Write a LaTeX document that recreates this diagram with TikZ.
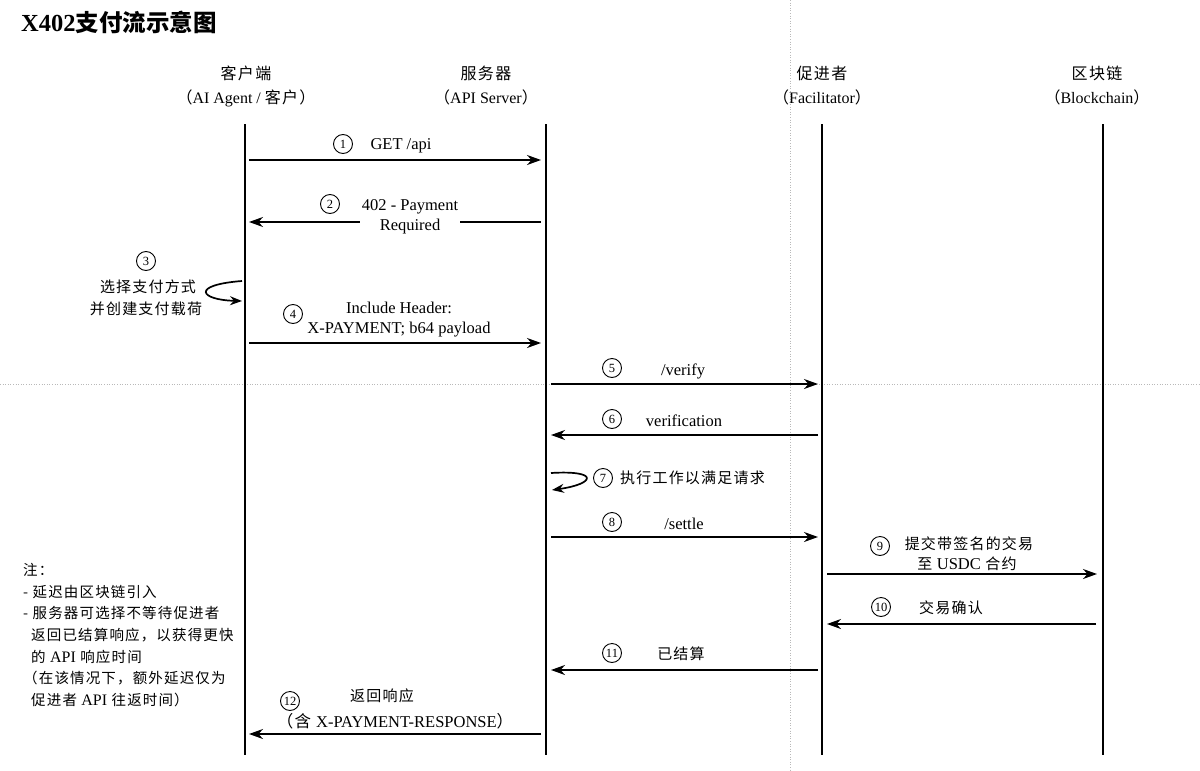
\documentclass[tikz,border=0pt]{standalone}
\usepackage{fontspec}
\setmainfont{Liberation Serif}
\newfontfamily\cjk{Noto Sans CJK SC}[LetterSpace=8]
\newfontfamily\cjktitle{Noto Sans CJK SC}
\usetikzlibrary{arrows.meta}
\tikzset{
  life/.style={line width=2.5pt},
  msg/.style={line width=1.7pt, -{Stealth[length=14pt,width=10pt,inset=4.5pt]}},
  loop/.style={line width=1.7pt, -{Stealth[length=12pt,width=9pt,inset=4pt]}},
  num/.style={circle, draw, line width=0.9pt, minimum size=19pt, inner sep=0pt, font=\fontsize{12.5}{12.5}\selectfont},
  lbl/.style={font=\fontsize{16.5}{20}\selectfont, align=center, inner sep=1pt, yshift=-2pt},
  zh/.style={font=\fontsize{15}{20}\selectfont\cjk, inner sep=1pt},
  hdr/.style={font=\fontsize{16}{24}\selectfont, align=center, inner sep=0pt, yshift=-1pt},
  guide/.style={gray!55, dotted, line width=0.6pt},
}
\begin{document}
\begin{tikzpicture}[x=1pt,y=-1pt]
\useasboundingbox (0,0) rectangle (1200,771);
\fill[white] (0,0) rectangle (1200,771);

% guide lines
\coordinate (gv1) at (790,0); \coordinate (gv2) at (790,771);
\coordinate (gh1) at (0,384); \coordinate (gh2) at (1200,384);
\draw[guide] (gv1) -- (gv2);
\draw[guide] (gh1) -- (gh2);

% title
\node[anchor=west, inner sep=0pt, font=\fontsize{24.5}{28}\selectfont\bfseries] (title) at (21,22) {X402{\cjktitle\fontsize{23.5}{28}\selectfont 支付流示意图}};

% headers
\node[hdr] (hC) at (246,85) {{\cjk 客户端}\\{\cjk （}AI Agent / {\cjk 客户）}};
\node[hdr] (hS) at (486,85) {{\cjk 服务器}\\{\cjk （}API Server{\cjk ）}};
\node[hdr] (hF) at (822,85) {{\cjk 促进者}\\{\cjk （}Facilitator{\cjk ）}};
\node[hdr] (hB) at (1097,85) {{\cjk 区块链}\\{\cjk （}Blockchain{\cjk ）}};

% lifelines
\coordinate (Ct) at (245,124); \coordinate (Cb) at (245,755);
\coordinate (St) at (546,124); \coordinate (Sb) at (546,755);
\coordinate (Ft) at (822,124); \coordinate (Fb) at (822,755);
\coordinate (Bt) at (1103,124); \coordinate (Bb) at (1103,755);
\draw[life] (Ct) -- (Cb);
\draw[life] (St) -- (Sb);
\draw[life] (Ft) -- (Fb);
\draw[life] (Bt) -- (Bb);

% 1
\coordinate (m1a) at (249,160); \coordinate (m1b) at (541,160);
\draw[msg] (m1a) -- (m1b);
\node[num] (n1) at (343,144) {1};
\node[lbl] (t1) at (401,144) {GET /api};

% 2
\coordinate (m2a) at (541,222); \coordinate (m2b) at (249,222);
\draw[msg] (m2a) -- (m2b);
\node[num] (n2) at (330,204) {2};
\node[lbl, fill=white, inner sep=2pt] (t2) at (410,215) {402 - Payment\\Required};

% 3 self loop on client
\coordinate (m3a) at (242,281); \coordinate (m3b) at (242,301);
\draw[loop] (m3a) .. controls (190,285) and (200,300) .. (m3b);
\node[num] (n3) at (146,261) {3};
\node[zh] (t3a) at (148,287) {选择支付方式};
\node[zh] (t3b) at (146,309) {并创建支付载荷};

% 4
\coordinate (m4a) at (249,343); \coordinate (m4b) at (541,343);
\draw[msg] (m4a) -- (m4b);
\node[num] (n4) at (293,314) {4};
\node[lbl] (t4) at (399,318) {Include Header:\\X-PAYMENT; b64 payload};

% 5
\coordinate (m5a) at (551,384); \coordinate (m5b) at (818,384);
\draw[msg] (m5a) -- (m5b);
\node[num] (n5) at (612,368) {5};
\node[lbl] (t5) at (683,369) {/verify};

% 6
\coordinate (m6a) at (818,435); \coordinate (m6b) at (551,435);
\draw[msg] (m6a) -- (m6b);
\node[num] (n6) at (612,419) {6};
\node[lbl] (t6) at (684,419) {verification};

% 7 self loop on server
\coordinate (m7a) at (551,473); \coordinate (m7b) at (552,490);
\draw[loop] (m7a) .. controls (600,470) and (595,484) .. (m7b);
\node[num] (n7) at (603,478) {7};
\node[zh, anchor=west] (t7) at (619,478) {执行工作以满足请求};

% 8
\coordinate (m8a) at (551,537); \coordinate (m8b) at (818,537);
\draw[msg] (m8a) -- (m8b);
\node[num] (n8) at (612,522) {8};
\node[lbl] (t8) at (684,522) {/settle};

% 9
\coordinate (m9a) at (827,574); \coordinate (m9b) at (1097,574);
\draw[msg] (m9a) -- (m9b);
\node[num] (n9) at (880,546) {9};
\node[zh] (t9a) at (969,544) {提交带签名的交易};
\node[zh] (t9b) at (967,564) {至 {\rmfamily\fontsize{16.5}{20}\selectfont USDC} 合约};

% 10
\coordinate (m10a) at (1096,624); \coordinate (m10b) at (827,624);
\draw[msg] (m10a) -- (m10b);
\node[num] (n10) at (881,607) {10};
\node[zh] (t10) at (951,608) {交易确认};

% 11
\coordinate (m11a) at (818,670); \coordinate (m11b) at (551,670);
\draw[msg] (m11a) -- (m11b);
\node[num] (n11) at (612,653) {11};
\node[zh] (t11) at (681,654) {已结算};

% 12
\coordinate (m12a) at (541,734); \coordinate (m12b) at (249,734);
\draw[msg] (m12a) -- (m12b);
\node[num] (n12) at (290,701) {12};
\node[zh] (t12a) at (382,696) {返回响应};
\node[lbl] (t12b) at (395,719) {{\cjk （含 }X-PAYMENT-RESPONSE{\cjk ）}};

% notes
\node[anchor=north west, align=left, inner sep=0pt, font=\fontsize{14.5}{21.7}\selectfont\cjk] (notes) at (23,563) {%
注：\\
- 延迟由区块链引入\\
- 服务器可选择不等待促进者\\
\hspace*{8pt}返回已结算响应，以获得更快\\
\hspace*{8pt}的 {\rmfamily\fontsize{16}{21.7}\selectfont API} 响应时间\\
（在该情况下，额外延迟仅为\\
\hspace*{8pt}促进者 {\rmfamily\fontsize{16}{21.7}\selectfont API} 往返时间）};
\end{tikzpicture}
\end{document}
